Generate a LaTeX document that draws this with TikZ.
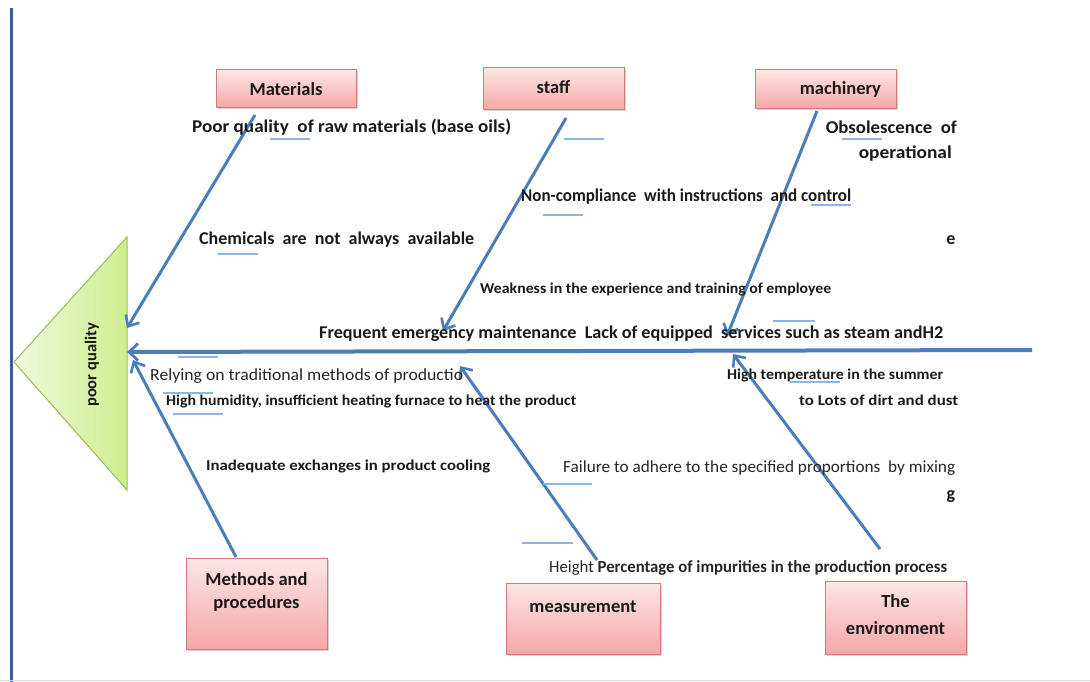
\documentclass[tikz,border=0pt]{standalone}
\usepackage{fontspec}
\usepackage{graphicx}
\setmainfont{Carlito}
\usetikzlibrary{arrows.meta,shadows}
\definecolor{bone}{HTML}{4A7EBB}
\definecolor{uline}{HTML}{8EB4E3}
\definecolor{frame}{HTML}{3B5E8C}
\definecolor{boxtop}{HTML}{FDE6E6}
\definecolor{boxbot}{HTML}{F6A6A6}
\definecolor{boxline}{HTML}{D27A78}
\definecolor{triL}{HTML}{F0FADC}
\definecolor{triR}{HTML}{CDEE8E}
\definecolor{triline}{HTML}{9BBB59}
\newcommand{\fitw}[2]{\resizebox{#1pt}{\height}{#2}}
\tikzset{
  catbox/.style={draw=boxline, line width=1pt, top color=boxtop, bottom color=boxbot,
    drop shadow={shadow xshift=1.5pt, shadow yshift=-1.5pt, opacity=0.35},
    font=\fontsize{18.5}{23}\selectfont\bfseries, text=black!90, inner sep=0pt},
  boxtxt/.style={font=\fontsize{18.5}{23}\selectfont\bfseries, text=black!90, inner sep=0pt},
  bonearrow/.style={draw=bone, line width=3pt, -{Straight Barb[length=9pt,width=16pt,line width=2.6pt]}},
  spine/.style={draw=bone, line width=4pt, {Straight Barb[length=9pt,width=17pt,line width=2.8pt]}-},
  btxt/.style={font=\fontsize{18}{21}\selectfont\bfseries, text=black!90, inner sep=0pt, anchor=west},
  stxt/.style={font=\fontsize{15}{18}\selectfont\bfseries, text=black!90, inner sep=0pt, anchor=west},
  rtxt/.style={font=\fontsize{17}{20}\selectfont, text=black!85, inner sep=0pt, anchor=west},
  ul/.style={draw=uline, line width=1.3pt}
}
\begin{document}
\begin{tikzpicture}[x=1pt,y=-1pt]
\useasboundingbox (0,0) rectangle (1090,682);
% frame lines
\draw[frame, line width=3pt] (11,8) -- (11,682);
\draw[black!15, line width=1pt] (0,680) -- (1090,680);
% head triangle
\path[draw=triline, line width=1pt, left color=triL, right color=triR] (14,362) -- (127,237) -- (127,490) -- cycle;
\node[rotate=90, font=\fontsize{16.5}{19}\selectfont\bfseries, text=black!90] (effect) at (92,365) {poor quality};
% category boxes
\node[catbox, minimum width=140pt, minimum height=38pt] (mat) at (286,89) {Materials};
\node[catbox, minimum width=141pt, minimum height=42pt] (staff) at (553.5,89) {};
\node[boxtxt] (staffT) at (553.5,87) {staff};
\node[catbox, minimum width=141pt, minimum height=39pt, align=right, text width=111pt] (mach) at (825.5,89.5) {machinery};
\node[catbox, minimum width=141pt, minimum height=91pt, anchor=north] (meth) at (256.5,558) {};
\node[catbox, minimum width=154pt, minimum height=71pt, anchor=north] (meas) at (583,583) {};
\node[catbox, minimum width=141pt, minimum height=73pt, anchor=north] (env) at (895.5,581) {};
\node[boxtxt, align=center] (methT) at (256.5,592) {Methods and\\procedures};
\node[boxtxt] (measT) at (583,607) {measurement};
\node[boxtxt, align=center, font=\fontsize{18.5}{27}\selectfont\bfseries] (envT) at (895.5,615) {The\\environment};
% spine
\coordinate (head) at (127,352);
\coordinate (tail) at (1032,350);
\draw[spine] (head) -- (tail);
% bones
\coordinate (matS) at (255,115);  \coordinate (matE) at (127,328);
\coordinate (stS) at (566,118);   \coordinate (stE) at (443,331);
\coordinate (maS) at (817,111);   \coordinate (maE) at (727,336);
\coordinate (meS) at (236,557);   \coordinate (meE) at (133,360);
\coordinate (msS) at (597,560);   \coordinate (msE) at (460,366);
\coordinate (enS) at (880,549);   \coordinate (enE) at (733,354);
\draw[bonearrow] (matS) -- (matE);
\draw[bonearrow] (stS) -- (stE);
\draw[bonearrow] (maS) -- (maE);
\draw[bonearrow] (meS) -- (meE);
\draw[bonearrow] (msS) -- (msE);
\draw[bonearrow] (enS) -- (enE);
% cause texts
\node[btxt] (t1) at (192,127) {\fitw{319}{Poor quality \ of raw materials (base oils)}};
\node[btxt, anchor=east] (t2) at (957,127) {\fitw{131}{Obsolescence \ of}};
\node[btxt, anchor=east] (t3) at (952,154) {\fitw{93}{operational}};
\node[btxt] (t4) at (521,197) {\fitw{330}{Non-compliance \ with instructions \ and control}};
\node[btxt] (t5) at (199,240) {\fitw{275}{Chemicals \ are \ not \ always \ available}};
\node[btxt, anchor=center] (t6) at (951,240) {e};
\node[stxt] (t7) at (480,290) {\fitw{351}{Weakness in the experience and training of employee}};
\node[btxt] (t8) at (319,334) {\fitw{624}{Frequent emergency maintenance \ Lack of equipped \ services such as steam andH2}};
\node[rtxt] (t9) at (150,376) {\fitw{313}{Relying on traditional methods of productio}};
\node[stxt] (t10) at (166,401) {\fitw{410}{High humidity, insufficient heating furnace to heat the product}};
\node[stxt] (t11) at (727,376) {\fitw{216}{High temperature in the summer}};
\node[stxt] (t12) at (799,400) {\fitw{159}{to Lots of dirt and dust}};
\node[stxt] (t13) at (206,467) {\fitw{284}{Inadequate exchanges in product cooling}};
\node[rtxt] (t14) at (563,468) {\fitw{392}{Failure to adhere to the specified proportions \ by mixing}};
\node[btxt, anchor=center] (t15) at (951,497) {g};
\node[rtxt] (t16) at (549,568) {\fitw{398}{Height \textbf{Percentage of impurities in the production process}}};
% underline marks
\draw[ul] (270,139) -- (310,139);
\draw[ul] (564,139) -- (604,139);
\draw[ul] (543,215) -- (583,215);
\draw[ul] (811,205) -- (851,205);
\draw[ul] (842,139) -- (882,139);
\draw[ul] (218,254) -- (258,254);
\draw[ul] (773,321) -- (815,321);
\draw[ul] (178,357) -- (218,357);
\draw[ul] (163,393) -- (213,393);
\draw[ul] (173,414) -- (223,414);
\draw[ul] (790,382) -- (840,382);
\draw[ul] (543,484) -- (592,484);
\draw[ul] (522,543) -- (573,543);
\end{tikzpicture}
\end{document}
